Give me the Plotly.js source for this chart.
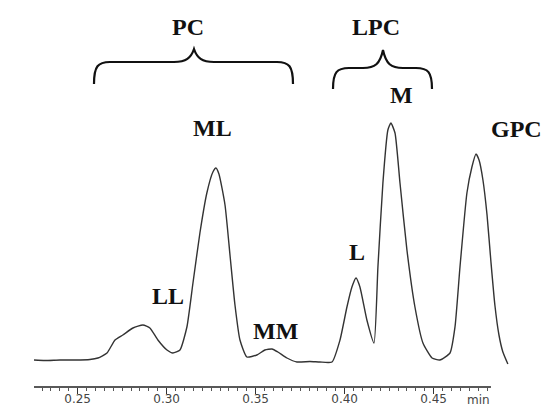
<!DOCTYPE html>
<html>
<head>
<meta charset="utf-8">
<script src="https://cdn.plot.ly/plotly-3.0.1.min.js"></script>
<style>html,body{margin:0;padding:0;background:#fff;}#chart{width:543px;height:410px;}</style>
</head>
<body>
<div id="chart"></div>
<script>
// Retention time (min) and detector signal (arbitrary units)
const time = [0.2255,0.2316,0.2401,0.2485,0.2569,0.2614,0.2665,0.2710,0.2754,0.2811,0.2867,0.2906,0.2951,0.3002,0.3035,
  0.3075,0.3114,0.3148,0.3187,0.3226,0.3260,0.3277,0.3294,0.3328,0.3356,0.3384,0.3412,0.3451,0.3507,0.3552,0.3592,0.3625,
  0.3676,0.3732,0.3805,0.3861,0.3929,0.3974,0.4013,0.4041,0.4064,0.4086,0.4125,0.4165,0.4187,0.4215,0.4243,0.4260,0.4283,
  0.4311,0.4350,0.4395,0.4440,0.4491,0.4535,0.4592,0.4620,0.4648,0.4687,0.4715,0.4738,0.4755,0.4777,0.4800,0.4822,0.4844,
  0.4867,0.4889,0.4917];
const signal = [0.0,-0.05,0.0,0.0,0.05,0.2,0.7,2.0,2.5,3.2,3.5,3.2,2.0,1.0,0.7,
  1.0,3.3,7.7,12.7,16.7,18.8,19.2,18.6,15.5,10.5,5.5,2.0,0.3,0.5,1.0,1.1,0.8,
  0.2,-0.2,-0.15,-0.2,-0.2,2.0,5.3,7.3,8.2,7.3,4.0,1.7,9.3,17.7,23.0,23.7,22.7,
  17.7,11.0,5.3,1.7,0.2,0.0,0.7,3.3,9.3,16.7,19.3,20.6,20.0,18.0,14.5,9.8,5.5,
  2.5,0.8,-0.4];

const majorTicks = [0.25,0.30,0.35,0.40,0.45];
const majorLabels = ["0.25","0.30","0.35","0.40","0.45"];
const minorTicks = [0.23,0.235,0.24,0.245,0.255,0.26,0.265,0.27,0.275,0.28,0.285,0.29,0.295,
  0.305,0.31,0.315,0.32,0.325,0.33,0.335,0.34,0.345,0.355,0.36,0.365,0.37,0.375,0.38,0.385,0.39,0.395,
  0.405,0.41,0.415,0.42,0.425,0.43,0.435,0.44,0.445,0.455,0.46,0.465,0.47,0.475,0.48];
const axisEnd = 0.4822;
const unitLabel = "min";

const peakNames = ["PC","LPC","ML","LL","MM","L","M","GPC"];

// layout helpers (pixel -> paper)
const ML_ = 34, MT_ = 0, PW = 476, PH = 387;
const X = px => (px - ML_) / PW;
const Y = py => (PH - py) / PH;
const labelPx = {PC:[188,27],LPC:[376,27],ML:[212,128],LL:[168,296],MM:[275,331],L:[357,252],M:[401,95],GPC:[516,129]};

const annotations = peakNames.map(n => ({
  text: "<b>" + n + "</b>", xref: "paper", yref: "paper",
  x: X(labelPx[n][0]), y: Y(labelPx[n][1]), xanchor: "center", yanchor: "middle",
  showarrow: false, font: {family: "Liberation Serif, Times New Roman, serif", size: 24, color: "#111"}
}));
annotations.push({text: unitLabel, xref: "paper", yref: "paper", x: X(478), y: Y(400),
  xanchor: "center", yanchor: "middle", showarrow: false,
  font: {family: "DejaVu Sans, sans-serif", size: 12, color: "#444"}});

function pt(px, py){ return X(px).toFixed(5) + "," + Y(py).toFixed(5); }
function brace(x0, x1, xt, yEnd, yFlat, yTip){
  const r = 16;
  return "M " + pt(x0, yEnd) + " C " + pt(x0, yFlat+4) + " " + pt(x0+4, yFlat) + " " + pt(x0+r, yFlat) +
    " L " + pt(xt-20, yFlat) + " C " + pt(xt-8, yFlat) + " " + pt(xt-3, yFlat-4) + " " + pt(xt, yTip) +
    " C " + pt(xt+3, yFlat-4) + " " + pt(xt+8, yFlat) + " " + pt(xt+20, yFlat) +
    " L " + pt(x1-r, yFlat) + " C " + pt(x1-4, yFlat) + " " + pt(x1, yFlat+4) + " " + pt(x1, yEnd);
}

const shapes = [
  {type: "line", xref: "x", yref: "paper", x0: time[0], x1: axisEnd, y0: 0, y1: 0,
   line: {color: "#222", width: 1.3}},
  {type: "path", xref: "paper", yref: "paper", path: brace(94, 293, 194, 84, 62, 49),
   line: {color: "#111", width: 2.2}},
  {type: "path", xref: "paper", yref: "paper", path: brace(333, 432, 383, 89, 68, 50),
   line: {color: "#111", width: 2.2}}
];

const trace = {x: time, y: signal, type: "scatter", mode: "lines",
  line: {color: "#333", width: 1.4, shape: "spline", smoothing: 0.5}, hoverinfo: "skip"};

const layout = {
  width: 543, height: 410,
  margin: {l: ML_, r: 543 - ML_ - PW, t: MT_, b: 410 - PH},
  paper_bgcolor: "#fff", plot_bgcolor: "#fff",
  showlegend: false,
  xaxis: {range: [0.2255, 0.4929], showline: false, zeroline: false, showgrid: false,
    tickmode: "array", tickvals: majorTicks, ticktext: majorLabels,
    ticks: "outside", ticklen: 6, tickwidth: 1.2, tickcolor: "#333", ticklabelstandoff: -5,
    tickfont: {family: "DejaVu Sans, sans-serif", size: 12, color: "#444"},
    minor: {tickmode: "array", tickvals: minorTicks, ticks: "outside", ticklen: 3, tickwidth: 1, tickcolor: "#555", showgrid: false}},
  yaxis: {range: [-2.7, 36], visible: false, showgrid: false, zeroline: false},
  annotations: annotations,
  shapes: shapes
};

Plotly.newPlot("chart", [trace], layout, {staticPlot: true, displayModeBar: false});
</script>
</body>
</html>
